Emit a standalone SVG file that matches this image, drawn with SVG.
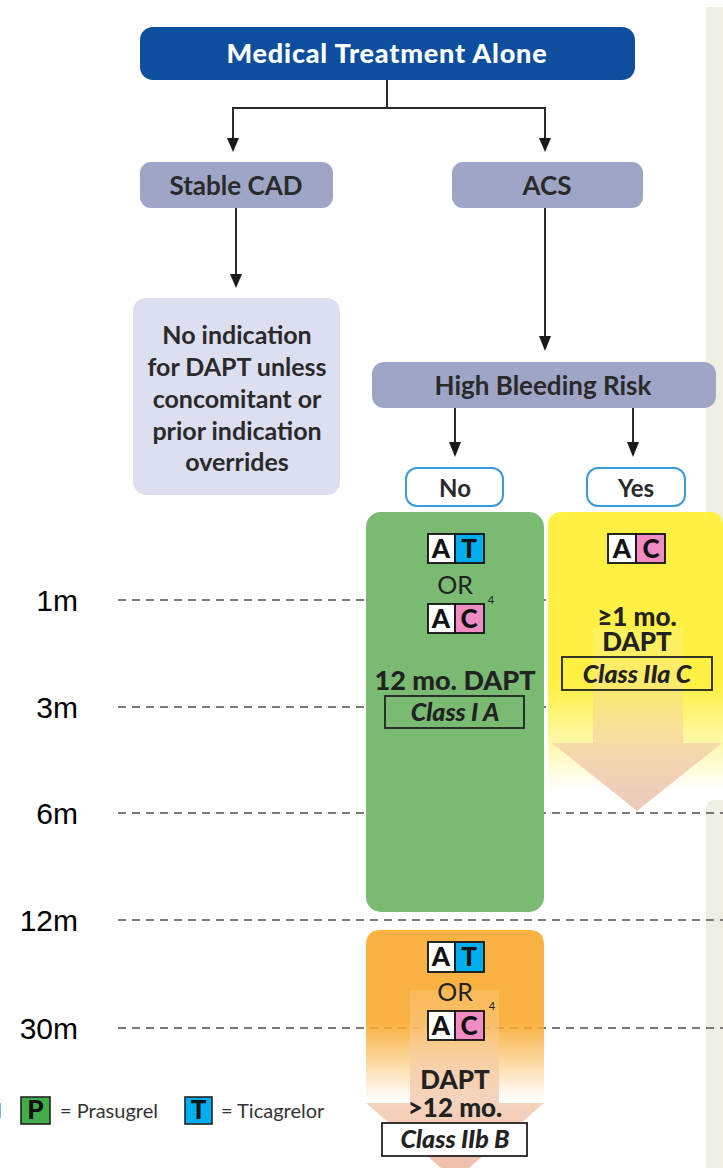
<svg xmlns="http://www.w3.org/2000/svg" width="723" height="1168" viewBox="0 0 723 1168">
<defs>
<style>
.t{font-family:Lato,"Open Sans","Liberation Sans",sans-serif;fill:#222;text-anchor:middle}
.b{font-weight:900}
.lbl{font-family:"Liberation Sans",Arial,sans-serif;font-size:30px;fill:#000;text-anchor:end}
.dash{stroke:#7a7a7a;stroke-width:2.2;stroke-dasharray:8 6;fill:none}
.conn{stroke:#2a2a2a;stroke-width:2;fill:none}
.grey{fill:#9fa5c7}
.ic{stroke:#111;stroke-width:1.8}
.icl{font-family:Lato,"Liberation Sans",sans-serif;font-weight:900;font-size:26px;fill:#111;text-anchor:middle}
.cls{font-family:Lato,"Liberation Sans",sans-serif;font-weight:900;font-style:italic;font-size:25px;fill:#222;text-anchor:middle}
.clsbox{fill:none;stroke:#222;stroke-width:1.8}
</style>
<linearGradient id="gy" x1="0" y1="512" x2="0" y2="790" gradientUnits="userSpaceOnUse">
<stop offset="0" stop-color="#ffee2a"/>
<stop offset="0.62" stop-color="#ffee2a"/>
<stop offset="1" stop-color="#ffee2a" stop-opacity="0"/>
</linearGradient>
<linearGradient id="gya" x1="0" y1="628" x2="0" y2="812" gradientUnits="userSpaceOnUse">
<stop offset="0" stop-color="#fff4a0" stop-opacity="0.25"/>
<stop offset="0.4" stop-color="#f5dc90" stop-opacity="0.55"/>
<stop offset="0.7" stop-color="#f0d0a8" stop-opacity="0.85"/>
<stop offset="1" stop-color="#ecc8bc"/>
</linearGradient>
<linearGradient id="go" x1="0" y1="930" x2="0" y2="1100" gradientUnits="userSpaceOnUse">
<stop offset="0" stop-color="#f9aa2e"/>
<stop offset="0.55" stop-color="#f9aa2e"/>
<stop offset="1" stop-color="#f9aa2e" stop-opacity="0"/>
</linearGradient>
<linearGradient id="goa" x1="0" y1="990" x2="0" y2="1168" gradientUnits="userSpaceOnUse">
<stop offset="0" stop-color="#fbd29a" stop-opacity="0.25"/>
<stop offset="0.5" stop-color="#f3c8a8" stop-opacity="0.7"/>
<stop offset="1" stop-color="#efc0ac"/>
</linearGradient>
</defs>

<rect x="0" y="0" width="723" height="1168" fill="#ffffff"/>
<rect x="706" y="7" width="20" height="520" fill="#efefe4"/>
<rect x="706" y="800" width="24" height="380" rx="8" fill="#efefe4"/>

<g id="timeline">
<text class="lbl" x="78" y="611">1m</text>
<text class="lbl" x="78" y="718">3m</text>
<text class="lbl" x="78" y="824">6m</text>
<text class="lbl" x="78" y="931">12m</text>
<text class="lbl" x="78" y="1039">30m</text>
<line class="dash" x1="118" y1="600" x2="723" y2="600"/>
<line class="dash" x1="118" y1="707" x2="723" y2="707"/>
<line class="dash" x1="118" y1="813" x2="723" y2="813"/>
<line class="dash" x1="118" y1="920" x2="723" y2="920"/>
<line class="dash" x1="118" y1="1028" x2="723" y2="1028"/>
</g>

<g id="connectors">
<path class="conn" d="M387,80 V108 H233 V140"/>
<path class="conn" d="M387,108 H545 V140"/>
<polygon points="227,138 239,138 233,152" fill="#1a1a1a"/>
<polygon points="539,138 551,138 545,152" fill="#1a1a1a"/>
<path class="conn" d="M236,208 V276"/>
<polygon points="230,274 242,274 236,288" fill="#1a1a1a"/>
<path class="conn" d="M545,208 V338"/>
<polygon points="539,336 551,336 545,351" fill="#1a1a1a"/>
<path class="conn" d="M455,408 V444"/>
<polygon points="449,442 461,442 455,457" fill="#1a1a1a"/>
<path class="conn" d="M633,408 V444"/>
<polygon points="627,442 639,442 633,457" fill="#1a1a1a"/>
</g>

<g id="n-medical">
<rect x="140" y="27" width="495" height="53" rx="13" fill="#0d4f9e"/>
<text class="t" x="387" y="63" font-size="27" font-weight="900" letter-spacing="0.8" style="fill:#fff">Medical Treatment Alone</text>
</g>

<g id="n-stable">
<rect class="grey" x="140" y="162" width="193" height="46" rx="11"/>
<text class="t" x="236" y="195" font-size="26" font-weight="bold" style="fill:#2a2a2a">Stable CAD</text>
</g>

<g id="n-acs">
<rect class="grey" x="452" y="162" width="191" height="46" rx="11"/>
<text class="t" x="547" y="195" font-size="26" font-weight="bold" style="fill:#2a2a2a">ACS</text>
</g>

<g id="n-noind">
<rect x="133" y="298" width="207" height="197" rx="13" fill="#dcdff0"/>
<g font-size="25" font-weight="bold">
<text class="t" x="237" y="344" style="fill:#2a2a2a">No indication</text>
<text class="t" x="237" y="376" style="fill:#2a2a2a">for DAPT unless</text>
<text class="t" x="237" y="408" style="fill:#2a2a2a">concomitant or</text>
<text class="t" x="237" y="440" style="fill:#2a2a2a">prior indication</text>
<text class="t" x="237" y="471" style="fill:#2a2a2a">overrides</text>
</g>
</g>

<g id="n-hbr">
<rect class="grey" x="372" y="362" width="344" height="46" rx="12"/>
<text class="t" x="543" y="395" font-size="26" font-weight="bold" style="fill:#2a2a2a">High Bleeding Risk</text>
</g>

<g id="n-no">
<rect x="406" y="468" width="97" height="38" rx="11" fill="#fff" stroke="#3b9bd8" stroke-width="2"/>
<text class="t" x="455" y="497" font-size="24" font-weight="bold" style="fill:#2a2a2a">No</text>
</g>
<g id="n-yes">
<rect x="587" y="468" width="98" height="38" rx="11" fill="#fff" stroke="#3b9bd8" stroke-width="2"/>
<text class="t" x="636" y="497" font-size="24" font-weight="bold" style="fill:#2a2a2a">Yes</text>
</g>

<g id="n-yellow">
<path d="M548,800 V526 Q548,512 562,512 H710 Q723,512 723,526 V800 Z" fill="#fff"/>
<path d="M548,800 V526 Q548,512 562,512 H710 Q723,512 723,526 V800 Z" fill="url(#gy)" opacity="0.88"/>
<polygon points="593,628 683,628 683,743 722,743 637,811 552,743 593,743" fill="url(#gya)"/>
<rect class="ic" x="608" y="534" width="28" height="29" fill="#fff"/>
<rect class="ic" x="636" y="534" width="29" height="29" fill="#f08cc4"/>
<text class="icl" x="622" y="558">A</text>
<text class="icl" x="651" y="558">C</text>
<text class="t b" x="637" y="626" font-size="26">≥1 mo.</text>
<text class="t b" x="637" y="651" font-size="26">DAPT</text>
<rect class="clsbox" x="562" y="657" width="150" height="33"/>
<text class="cls" x="637" y="683">Class IIa C</text>
</g>

<g id="n-green">
<rect x="366" y="512" width="178" height="400" rx="15" fill="#7aba72"/>
<rect class="ic" x="428" y="534" width="27" height="29" fill="#fff"/>
<rect class="ic" x="455" y="534" width="29" height="29" fill="#00aeef"/>
<text class="icl" x="441" y="558">A</text>
<text class="icl" x="469" y="558">T</text>
<text class="t" x="455" y="594" font-size="25">OR</text>
<rect class="ic" x="428" y="604" width="27" height="29" fill="#fff"/>
<rect class="ic" x="455" y="604" width="29" height="29" fill="#f08cc4"/>
<text class="icl" x="441" y="628">A</text>
<text class="icl" x="469" y="628">C</text>
<text class="t" x="491" y="604" font-size="11">4</text>
<text class="t b" x="455" y="690" font-size="27">12 mo. DAPT</text>
<rect class="clsbox" x="385" y="696" width="139" height="32"/>
<text class="cls" x="455" y="721">Class I A</text>
</g>

<g id="n-orange">
<path d="M366,1168 V945 Q366,930 381,930 H529 Q544,930 544,945 V1168 Z" fill="url(#go)" opacity="0.9"/>
<polygon points="410,990 499,990 499,1103 544,1103 455,1180 366,1103 410,1103" fill="url(#goa)"/>
<rect class="ic" x="428" y="942" width="27" height="30" fill="#fff"/>
<rect class="ic" x="455" y="942" width="29" height="30" fill="#00aeef"/>
<text class="icl" x="441" y="966">A</text>
<text class="icl" x="469" y="966">T</text>
<text class="t" x="455" y="1001" font-size="25">OR</text>
<rect class="ic" x="428" y="1011" width="27" height="29" fill="#fff"/>
<rect class="ic" x="455" y="1011" width="29" height="29" fill="#f08cc4"/>
<text class="icl" x="441" y="1035">A</text>
<text class="icl" x="469" y="1035">C</text>
<text class="t" x="492" y="1010" font-size="11">4</text>
<text class="t b" x="455" y="1089" font-size="26">DAPT</text>
<text class="t b" x="455" y="1117" font-size="26">&gt;12 mo.</text>
<rect x="382" y="1123" width="145" height="33" fill="#fff" stroke="#222" stroke-width="1.8"/>
<text class="cls" x="455" y="1148">Class IIb B</text>
</g>

<g id="legend">
<text x="-4" y="1118" font-family="Lato,sans-serif" font-size="20" font-weight="bold" fill="#333">I</text>
<rect x="21" y="1097" width="29" height="27" fill="#41ad49" stroke="#222" stroke-width="1.6"/>
<text class="icl" x="35.5" y="1119" font-size="22">P</text>
<text x="60" y="1118" font-family="Lato,sans-serif" font-size="20" fill="#333">= Prasugrel</text>
<rect x="185" y="1097" width="27" height="27" fill="#00aeef" stroke="#222" stroke-width="1.6"/>
<text class="icl" x="198.5" y="1119" font-size="22">T</text>
<text x="221" y="1118" font-family="Lato,sans-serif" font-size="20" fill="#333">= Ticagrelor</text>
</g>
</svg>
